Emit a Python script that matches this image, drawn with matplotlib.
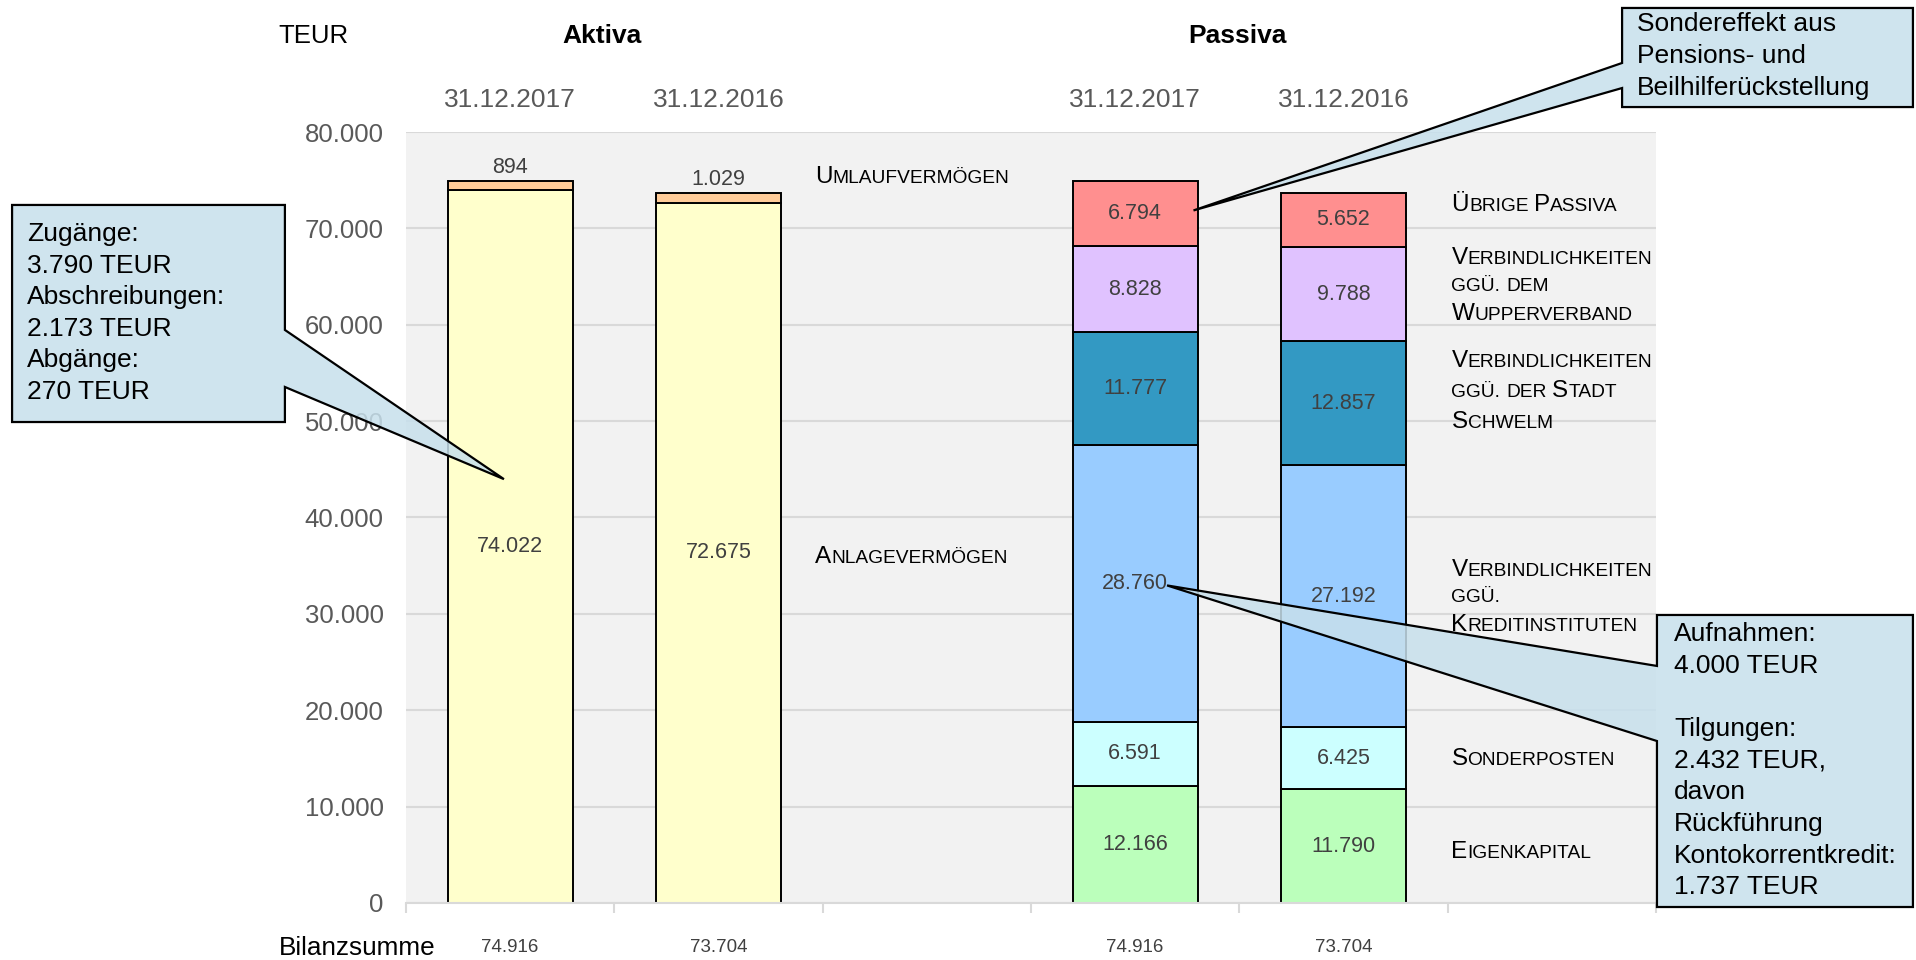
import matplotlib

matplotlib.use("Agg")
import matplotlib.pyplot as plt
import matplotlib.transforms as mtransforms
import numpy as np
from matplotlib.offsetbox import AnnotationBbox, HPacker, TextArea, VPacker
from matplotlib.patches import Polygon
from matplotlib.ticker import FuncFormatter

plt.rcParams["font.family"] = ["Liberation Sans", "DejaVu Sans"]

# --- data (TEUR) ---
dates = ["31.12.2017", "31.12.2016"]
anlagevermoegen = [74022, 72675]
umlaufvermoegen = [894, 1029]

eigenkapital = [12166, 11790]
sonderposten = [6591, 6425]
verb_kredit = [28760, 27192]
verb_stadt = [11777, 12857]
verb_wupper = [8828, 9788]
uebrige_passiva = [6794, 5652]

passiva_series = [eigenkapital, sonderposten, verb_kredit, verb_stadt, verb_wupper, uebrige_passiva]
passiva_colors = ["#bbffbb", "#ccffff", "#99ccff", "#3399c3", "#e0c2ff", "#ff8f8f"]
passiva_names = [
    "Eigenkapital",
    "Sonderposten",
    "Verbindlichkeiten\nggü.\nKreditinstituten",
    "Verbindlichkeiten\nggü. der Stadt\nSchwelm",
    "Verbindlichkeiten\nggü. dem\nWupperverband",
    "Übrige Passiva",
]
passiva_name_y = [5300, 14950, 31700, 53100, 64000, 72400]

aktiva_x = [0, 1]
passiva_x = [3, 4]
bar_w = 0.6
val_color = "#404040"
gray = "#595959"


def fmt(v):
    return f"{v:,.0f}".replace(",", ".")


def small_caps(text, big=17.5, small=13.8):
    lines = []
    for line in text.split("\n"):
        words = []
        for w in line.split(" "):
            parts = []
            rest = w
            if w[0].isupper():
                parts.append(TextArea(w[0], textprops=dict(size=big, color="black")))
                rest = w[1:]
            if rest:
                parts.append(TextArea(rest.upper(), textprops=dict(size=small, color="black")))
            words.append(HPacker(children=parts, align="baseline", pad=0, sep=0))
        lines.append(HPacker(children=words, align="baseline", pad=0, sep=small * 0.3))
    return VPacker(children=lines, align="left", pad=0, sep=6)


fig = plt.figure(figsize=(19.16, 9.6), dpi=100)
ax = fig.add_axes([0.2119, 0.0594, 0.6524, 0.8031])
ax.set_facecolor("#f2f2f2")
ax.set_xlim(-0.5, 5.5)
ax.set_ylim(0, 80000)
tr = mtransforms.blended_transform_factory(ax.transData, fig.transFigure)

# Aktiva
ax.bar(aktiva_x, anlagevermoegen, bar_w, color="#ffffcc", edgecolor="black", lw=1.4, zorder=2)
ax.bar(aktiva_x, umlaufvermoegen, bar_w, bottom=anlagevermoegen, color="#ffcc99",
       edgecolor="black", lw=1.4, zorder=2)
for x, a, u in zip(aktiva_x, anlagevermoegen, umlaufvermoegen):
    ax.text(x, a / 2, fmt(a), ha="center", va="center", size=15.5, color=val_color, zorder=3)
    ax.annotate(fmt(u), (x, a + u), xytext=(0, 2), textcoords="offset points",
                ha="center", va="bottom", size=15.5, color=val_color, zorder=3)

# Passiva
bottom = np.zeros(2)
for vals, col in zip(passiva_series, passiva_colors):
    ax.bar(passiva_x, vals, bar_w, bottom=bottom, color=col, edgecolor="black", lw=1.4, zorder=2)
    for x, b, v in zip(passiva_x, bottom, vals):
        ax.text(x, b + v / 2, fmt(v), ha="center", va="center", size=15.5, color=val_color, zorder=3)
    bottom = bottom + np.array(vals)

# axes styling
ax.set_yticks(np.arange(0, 80001, 10000))
ax.yaxis.set_major_formatter(FuncFormatter(lambda v, p: fmt(v)))
ax.tick_params(axis="y", length=0, labelsize=18.5, labelcolor=gray, pad=16)
ax.set_xticks(np.arange(-0.5, 5.6, 1))
ax.set_xticklabels([])
ax.tick_params(axis="x", length=7, width=1.5, color="#d9d9d9")
ax.grid(axis="y", color="#d9d9d9", lw=1.5, zorder=0)
ax.set_axisbelow(True)
for s in ["top", "right", "left"]:
    ax.spines[s].set_visible(False)
ax.spines["bottom"].set_color("#d9d9d9")
ax.spines["bottom"].set_linewidth(1.5)

# header texts
fig.text(0.1454, 0.962, "TEUR", size=18.5, va="center", ha="left")
ax.text(0.44, 0.962, "Aktiva", size=19, weight="bold", ha="center", va="center", transform=tr)
ax.text(3.49, 0.962, "Passiva", size=19, weight="bold", ha="center", va="center", transform=tr)
for x, d in zip(aktiva_x + passiva_x, dates + dates):
    ax.text(x, 0.8956, d, transform=tr, size=19, color=gray, ha="center", va="center")

# Bilanzsumme row
fig.text(0.1454, 0.0125, "Bilanzsumme", size=18.8, va="center", ha="left")
totals_a = [a + u for a, u in zip(anlagevermoegen, umlaufvermoegen)]
totals_p = [int(v) for v in bottom]
for x, t in zip(aktiva_x + passiva_x, totals_a + totals_p):
    ax.text(x, 0.0125, fmt(t), transform=tr, size=13.5, color=val_color, ha="center", va="center")

# category labels (small caps)
for name, xy in [("Umlaufvermögen", (1.465, 75300)), ("Anlagevermögen", (1.465, 35900))]:
    ax.add_artist(AnnotationBbox(small_caps(name), xy, xycoords="data", box_alignment=(0, 0.5),
                                 frameon=False, pad=0, annotation_clip=False))
for name, y in zip(passiva_names, passiva_name_y):
    ax.add_artist(AnnotationBbox(small_caps(name), (4.518, y), xycoords="data",
                                 box_alignment=(0, 0.5), frameon=False, pad=0, annotation_clip=False))


# callouts
def callout(box, side, base, tip_data, text, text_xy):
    x0, x1, y0, y1 = box
    b_hi, b_lo = base
    tip = fig.transFigure.inverted().transform(ax.transData.transform(tip_data))
    if side == "right":
        verts = [(x0, y1), (x1, y1), (x1, b_hi), tip, (x1, b_lo), (x1, y0), (x0, y0)]
    else:
        verts = [(x0, y1), (x1, y1), (x1, y0), (x0, y0), (x0, b_lo), tip, (x0, b_hi)]
    fig.add_artist(Polygon(verts, closed=True, transform=fig.transFigure,
                           facecolor=(0.78, 0.88, 0.925, 0.85), edgecolor="black", lw=1.6, zorder=5))
    fig.text(text_xy[0], text_xy[1], text, size=19, ha="left", va="center",
             linespacing=1.4, zorder=6)


callout((0.0063, 0.1487, 0.5604, 0.7865), "right", (0.6563, 0.5969), (-0.03, 43980),
        "Zugänge:\n3.790 TEUR\nAbschreibungen:\n2.173 TEUR\nAbgänge:\n270 TEUR", (0.0141, 0.674))
callout((0.8466, 0.9984, 0.8885, 0.9917), "left", (0.9344, 0.9083), (3.28, 71860),
        "Sondereffekt aus\nPensions- und\nBeilhilferückstellung", (0.8544, 0.9417))
callout((0.8648, 0.9984, 0.0552, 0.3594), "left", (0.3063, 0.2281), (3.153, 32950),
        "Aufnahmen:\n4.000 TEUR\n\nTilgungen:\n2.432 TEUR,\ndavon\nRückführung\n"
        "Kontokorrentkredit:\n1.737 TEUR", (0.8737, 0.2076))

fig.savefig("out.png", dpi=100)
